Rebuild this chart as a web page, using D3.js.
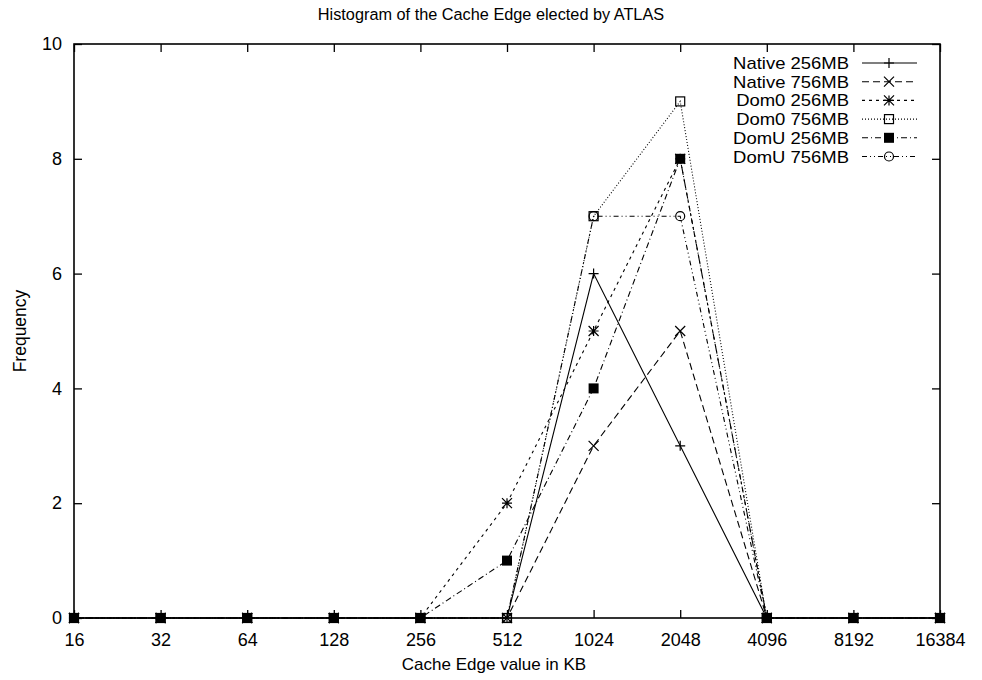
<!DOCTYPE html>
<html>
<head>
<meta charset="utf-8">
<script src="https://cdn.jsdelivr.net/npm/d3@7"></script>
<style>
  html, body { margin: 0; padding: 0; background: #fff; }
  svg { display: block; }
  text { font-family: "Liberation Sans", Arial, Helvetica, sans-serif; fill: #000; }
</style>
</head>
<body>
<svg id="chart" width="982" height="680"></svg>
<script>
// Cache edge sizes (KB) on the x axis
const cacheSizes = [16, 32, 64, 128, 256, 512, 1024, 2048, 4096, 8192, 16384];
const yTicks = [0, 2, 4, 6, 8, 10];

// Frequency of each elected cache edge, per configuration
const native256 = [0, 0, 0, 0, 0, 0, 6, 3, 0, 0, 0];
const native756 = [0, 0, 0, 0, 0, 0, 3, 5, 0, 0, 0];
const dom0_256  = [0, 0, 0, 0, 0, 2, 5, 8, 0, 0, 0];
const dom0_756  = [0, 0, 0, 0, 0, 0, 7, 9, 0, 0, 0];
const domU256   = [0, 0, 0, 0, 0, 1, 4, 8, 0, 0, 0];
const domU756   = [0, 0, 0, 0, 0, 0, 7, 7, 0, 0, 0];

const seriesNames = ["Native 256MB", "Native 756MB", "Dom0 256MB", "Dom0 756MB", "DomU 256MB", "DomU 756MB"];
const seriesValues = [native256, native756, dom0_256, dom0_756, domU256, domU756];

// gnuplot-style line types and point types
const dashes = [null, "7,4", "3,4", "1,2", "6,3,1,3", "5,3,1,3,1,3"];
const points = ["plus", "cross", "star", "square", "filledSquare", "circle"];

const svg = d3.select("#chart");
const M = { left: 74, right: 940, top: 44, bottom: 618 };

const x = d3.scaleLog().base(2).domain([16, 16384]).range([M.left, M.right]);
const y = d3.scaleLinear().domain([0, 10]).range([M.bottom, M.top]);

const stroke = "#000";
const tickLen = 8;
const font = "'Liberation Sans', Arial, Helvetica, sans-serif";

// Title
svg.append("text")
  .attr("x", 491).attr("y", 20)
  .attr("text-anchor", "middle").attr("font-size", 16.3)
  .text("Histogram of the Cache Edge elected by ATLAS");

// Axes (ticks point inward and are mirrored on the opposite side)
const xAxisB = d3.axisBottom(x).tickValues(cacheSizes).tickFormat(d3.format("d"))
  .tickSizeInner(-tickLen).tickSizeOuter(0).tickPadding(15);
const gx = svg.append("g").attr("transform", `translate(0,${M.bottom})`).call(xAxisB);
const xAxisT = d3.axisTop(x).tickValues(cacheSizes).tickFormat("")
  .tickSizeInner(-tickLen).tickSizeOuter(0);
const gxt = svg.append("g").attr("transform", `translate(0,${M.top})`).call(xAxisT);

const yAxisL = d3.axisLeft(y).tickValues(yTicks).tickFormat(d3.format("d"))
  .tickSizeInner(-tickLen).tickSizeOuter(0).tickPadding(12);
const gy = svg.append("g").attr("transform", `translate(${M.left},0)`).call(yAxisL);
const yAxisR = d3.axisRight(y).tickValues(yTicks).tickFormat("")
  .tickSizeInner(-tickLen).tickSizeOuter(0);
const gyr = svg.append("g").attr("transform", `translate(${M.right},0)`).call(yAxisR);

[gx, gxt, gy, gyr].forEach(g => {
  g.select(".domain").remove();
  g.selectAll("line").attr("stroke", stroke).attr("stroke-width", 1.3);
  g.selectAll("text").attr("font-size", 18).style("font-family", font);
});

// Frame
svg.append("rect")
  .attr("x", M.left).attr("y", M.top)
  .attr("width", M.right - M.left).attr("height", M.bottom - M.top)
  .attr("fill", "none").attr("stroke", stroke).attr("stroke-width", 1.6);

// Axis titles
svg.append("text")
  .attr("x", 494).attr("y", 670)
  .attr("text-anchor", "middle").attr("font-size", 17)
  .text("Cache Edge value in KB");
svg.append("text")
  .attr("transform", `translate(26,${(M.top + M.bottom) / 2}) rotate(-90)`)
  .attr("text-anchor", "middle").attr("font-size", 17.5)
  .text("Frequency");

// Point symbols
function drawPoint(g, type, cx, cy) {
  const r = 5;
  if (type === "plus") {
    g.append("path").attr("d", `M${cx - r},${cy}H${cx + r}M${cx},${cy - r}V${cy + r}`)
      .attr("stroke", stroke).attr("stroke-width", 1.2).attr("fill", "none");
  } else if (type === "cross") {
    g.append("path").attr("d", `M${cx - r},${cy - r}L${cx + r},${cy + r}M${cx - r},${cy + r}L${cx + r},${cy - r}`)
      .attr("stroke", stroke).attr("stroke-width", 1.2).attr("fill", "none");
  } else if (type === "star") {
    g.append("path").attr("d", `M${cx - r},${cy}H${cx + r}M${cx},${cy - r}V${cy + r}M${cx - r},${cy - r}L${cx + r},${cy + r}M${cx - r},${cy + r}L${cx + r},${cy - r}`)
      .attr("stroke", stroke).attr("stroke-width", 1.2).attr("fill", "none");
  } else if (type === "square") {
    g.append("rect").attr("x", cx - 4.5).attr("y", cy - 4.5).attr("width", 9).attr("height", 9)
      .attr("stroke", stroke).attr("stroke-width", 1.2).attr("fill", "none");
  } else if (type === "filledSquare") {
    g.append("rect").attr("x", cx - 5).attr("y", cy - 5).attr("width", 10).attr("height", 10)
      .attr("fill", stroke);
  } else if (type === "circle") {
    g.append("circle").attr("cx", cx).attr("cy", cy).attr("r", 4.5)
      .attr("stroke", stroke).attr("stroke-width", 1.2).attr("fill", "none");
  }
}

const line = d3.line().x((d, i) => x(cacheSizes[i])).y(d => y(d));

// Series: line then points, in plot order
seriesValues.forEach((vals, s) => {
  const g = svg.append("g");
  g.append("path").datum(vals).attr("d", line)
    .attr("fill", "none").attr("stroke", stroke).attr("stroke-width", 1.1)
    .attr("stroke-dasharray", dashes[s]);
  vals.forEach((v, i) => drawPoint(g, points[s], x(cacheSizes[i]), y(v)));
});

// Legend (top right, inside frame); labels are set slightly wide to fit the row pitch
const legendY0 = 63, legendDy = 18.7;
seriesNames.forEach((name, s) => {
  const ly = legendY0 + s * legendDy;
  const g = svg.append("g");
  g.append("text")
    .attr("transform", `translate(849,${ly + 6}) scale(1.14,1)`)
    .attr("text-anchor", "end").attr("font-size", 16.2).text(name);
  g.append("line").attr("x1", 862).attr("x2", 917).attr("y1", ly).attr("y2", ly)
    .attr("stroke", stroke).attr("stroke-width", 1.1)
    .attr("stroke-dasharray", dashes[s]);
  drawPoint(g, points[s], 889, ly);
});
</script>
</body>
</html>
